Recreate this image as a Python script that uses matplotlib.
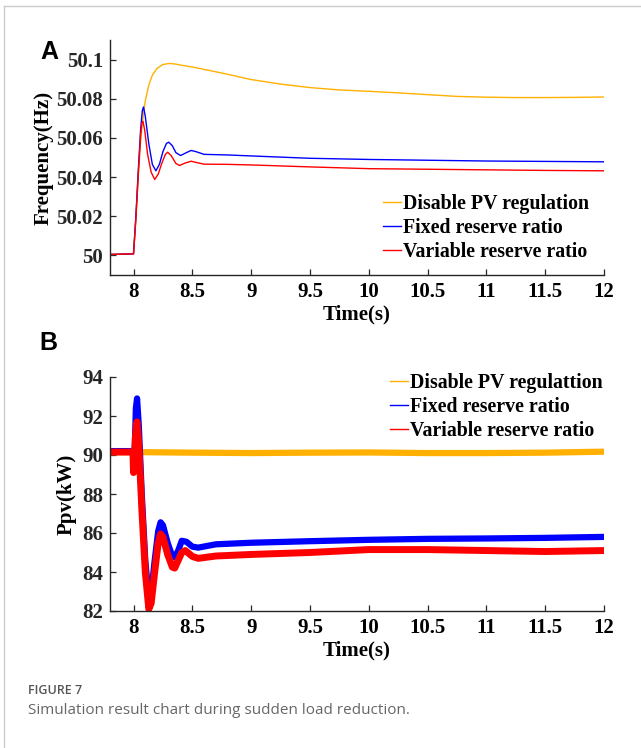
import matplotlib
matplotlib.use("Agg")
import matplotlib.pyplot as plt
from matplotlib.lines import Line2D

# ---------------- data ----------------
# Panel A: frequency (Hz)
t_orange = [7.8, 8.0, 8.02, 8.04, 8.06, 8.08, 8.10, 8.13, 8.16, 8.20, 8.25, 8.30, 8.35, 8.4, 8.5, 8.6,
            8.8, 9.0, 9.25, 9.5, 9.75, 10.0, 10.25, 10.5, 10.75, 11.0, 11.25, 11.5, 11.75, 12.0]
f_orange = [50.0005, 50.0008, 50.018, 50.040, 50.058, 50.070, 50.079, 50.087, 50.092, 50.0955, 50.0975, 50.098,
            50.0978, 50.0972, 50.0962, 50.0950, 50.0925, 50.0898, 50.0875, 50.0857, 50.0845, 50.0838, 50.0830,
            50.0821, 50.0812, 50.0808, 50.0806, 50.0806, 50.0807, 50.0809]

t_blue = [7.8, 8.0, 8.02, 8.04, 8.06, 8.075, 8.085, 8.10, 8.13, 8.16, 8.19, 8.22, 8.25, 8.28, 8.30, 8.33,
          8.36, 8.40, 8.45, 8.49, 8.53, 8.6, 8.8, 9.0, 9.5, 10.0, 10.5, 11.0, 11.5, 12.0]
f_blue = [50.0005, 50.0008, 50.020, 50.043, 50.064, 50.074, 50.0758, 50.071, 50.057, 50.0465, 50.0432, 50.0465,
          50.053, 50.0572, 50.0578, 50.056, 50.0525, 50.051, 50.0525, 50.0536, 50.053, 50.0516, 50.0513,
          50.0508, 50.0496, 50.0490, 50.0486, 50.0482, 50.0480, 50.0478]

t_red = [7.8, 8.0, 8.02, 8.04, 8.06, 8.07, 8.08, 8.095, 8.12, 8.15, 8.18, 8.21, 8.24, 8.27, 8.29, 8.32,
         8.36, 8.39, 8.44, 8.49, 8.53, 8.6, 8.8, 9.0, 9.5, 10.0, 10.5, 11.0, 11.5, 12.0]
f_red = [50.0005, 50.0008, 50.019, 50.041, 50.061, 50.0675, 50.0685, 50.064, 50.0515, 50.0425, 50.0388, 50.0415,
         50.047, 50.0515, 50.0527, 50.051, 50.047, 50.0459, 50.0472, 50.0481, 50.0475, 50.0466, 50.0465,
         50.0462, 50.0452, 50.0443, 50.0440, 50.0437, 50.0434, 50.0432]

# Panel B: PV power (kW)
tp_orange = [7.8, 8.0, 8.5, 9.0, 9.5, 10.0, 10.5, 11.0, 11.5, 12.0]
p_orange = [90.15, 90.15, 90.12, 90.1, 90.12, 90.13, 90.1, 90.1, 90.12, 90.17]

tp_blue = [7.8, 8.0, 8.005, 8.012, 8.02, 8.03, 8.045, 8.07, 8.10, 8.13, 8.15, 8.18, 8.21, 8.23, 8.25, 8.29,
           8.33, 8.35, 8.38, 8.41, 8.45, 8.50, 8.55, 8.7, 9.0, 9.5, 10.0, 10.5, 11.0, 11.5, 12.0]
p_blue = [90.2, 90.2, 89.8, 90.6, 92.4, 92.9, 91.5, 88.0, 84.6, 82.6, 82.9, 84.6, 86.1, 86.55, 86.4, 85.5,
          84.8, 84.75, 85.1, 85.6, 85.55, 85.3, 85.25, 85.42, 85.5, 85.58, 85.65, 85.7, 85.72, 85.75, 85.8]

tp_red = [7.8, 7.995, 8.0, 8.007, 8.015, 8.025, 8.03, 8.045, 8.07, 8.10, 8.13, 8.15, 8.18, 8.21, 8.23, 8.25,
          8.29, 8.33, 8.35, 8.38, 8.41, 8.44, 8.50, 8.55, 8.7, 9.0, 9.5, 10.0, 10.5, 11.0, 11.5, 12.0]
p_red = [90.15, 90.15, 89.1, 89.6, 90.8, 91.6, 91.7, 90.5, 87.3, 84.0, 82.1, 82.4, 84.0, 85.5, 85.95, 85.8,
         84.9, 84.25, 84.2, 84.6, 85.0, 85.1, 84.8, 84.7, 84.82, 84.9, 85.0, 85.15, 85.15, 85.1, 85.05, 85.1]

labels_a = ["Disable PV regulation", "Fixed reserve ratio", "Variable reserve ratio"]
labels_b = ["Disable PV regulattion", "Fixed reserve ratio", "Variable reserve ratio"]
xticks = [8, 8.5, 9, 9.5, 10, 10.5, 11, 11.5, 12]
xtick_labels = ["8", "8.5", "9", "9.5", "10", "10.5", "11", "11.5", "12"]
yticks_a = [50, 50.02, 50.04, 50.06, 50.08, 50.1]
ytick_labels_a = ["50", "50.02", "50.04", "50.06", "50.08", "50.1"]
yticks_b = [82, 84, 86, 88, 90, 92, 94]

ORANGE = "#FFB000"
BLUE = "#0000FF"
RED = "#FF0000"

# ---------------- figure ----------------
serif = ["Liberation Serif", "DejaVu Serif"]
plt.rcParams["font.family"] = serif
plt.rcParams["font.weight"] = "bold"

W, H = 641, 748
fig = plt.figure(figsize=(W / 100, H / 100), dpi=100)
fs_tick = 15
fs_leg = 14.3


def style_axes(ax):
    ax.spines["top"].set_visible(False)
    ax.spines["right"].set_visible(False)
    for s in ("left", "bottom"):
        ax.spines[s].set_linewidth(1.0)
        ax.spines[s].set_color("#262626")
    ax.tick_params(direction="in", length=4, width=0.9, colors="#262626")
    ax.tick_params(axis="x", pad=5)
    ax.tick_params(axis="y", pad=5)
    ax.set_xlim(7.8, 12)
    ax.set_xticks(xticks)
    ax.set_xticklabels(xtick_labels, fontfamily=serif, fontweight="bold", fontsize=fs_tick, color="black")
    ax.set_xlabel("Time(s)", fontfamily=serif, fontweight="bold", fontsize=15, labelpad=2)


# Panel A
axA = fig.add_axes([110 / W, 1 - 275 / H, (604 - 110) / W, (275 - 40) / H])
axA.plot(t_orange, f_orange, color=ORANGE, lw=1.0, label=labels_a[0])
axA.plot(t_blue, f_blue, color=BLUE, lw=1.0, label=labels_a[1])
axA.plot(t_red, f_red, color=RED, lw=1.0, label=labels_a[2])
axA.set_ylim(49.99, 50.11)
axA.set_yticks(yticks_a)
axA.set_yticklabels(ytick_labels_a, fontfamily=serif, fontweight="bold", fontsize=fs_tick, color="black")
style_axes(axA)
axA.set_ylabel("Frequency(Hz)", fontfamily=serif, fontweight="bold", fontsize=15, labelpad=2)
axA.legend(loc="upper left", bbox_to_anchor=(383 / W, 1 - 194 / H), bbox_transform=fig.transFigure,
           frameon=False, handlelength=0.9, handletextpad=0.1, labelspacing=0.2,
           borderpad=0, borderaxespad=0,
           prop={"family": serif, "weight": "bold", "size": fs_leg})

# Panel B
axB = fig.add_axes([110 / W, 1 - 611 / H, (604 - 110) / W, (611 - 377) / H])
axB.plot(tp_orange, p_orange, color=ORANGE, lw=4.5, solid_capstyle="butt", label=labels_b[0])
axB.plot(tp_blue, p_blue, color=BLUE, lw=4.5, solid_capstyle="butt", label=labels_b[1])
axB.plot(tp_red, p_red, color=RED, lw=5.0, solid_capstyle="butt", label=labels_b[2])
axB.set_ylim(82, 94)
axB.set_yticks(yticks_b)
axB.set_yticklabels([str(v) for v in yticks_b], fontfamily=serif, fontweight="bold", fontsize=fs_tick,
                    color="black")
style_axes(axB)
axB.set_ylabel("Ppv(kW)", fontfamily=serif, fontweight="bold", fontsize=15, labelpad=4)
handles_b = [Line2D([], [], color=c, lw=1.0) for c in (ORANGE, BLUE, RED)]
axB.legend(handles_b, labels_b, loc="upper left", bbox_to_anchor=(390 / W, 1 - 373 / H),
           bbox_transform=fig.transFigure, frameon=False, handlelength=0.9, handletextpad=0.1,
           labelspacing=0.2, borderpad=0, borderaxespad=0,
           prop={"family": serif, "weight": "bold", "size": fs_leg})

# Panel letters
fig.text(40 / W, 1 - 52 / H, "A", fontfamily=["Liberation Sans", "DejaVu Sans"], fontweight="bold",
         fontsize=18, va="center", ha="left")
fig.text(39 / W, 1 - 343 / H, "B", fontfamily=["Liberation Sans", "DejaVu Sans"], fontweight="bold",
         fontsize=18, va="center", ha="left")

# Caption
fig.text(28 / W, 1 - 690 / H, "FIGURE 7", fontfamily=["Open Sans", "DejaVu Sans"], fontsize=9,
         fontweight="semibold", color="#555555", va="center", ha="left")
fig.text(28 / W, 1 - 711 / H, "Simulation result chart during sudden load reduction.",
         fontfamily=["Open Sans", "DejaVu Sans"], fontsize=11, fontweight="normal", color="#666666",
         va="center", ha="left")

# Frame lines
fig.add_artist(Line2D([4 / W, 1], [1 - 6 / H, 1 - 6 / H], transform=fig.transFigure, color="#cccccc", lw=1))
fig.add_artist(Line2D([4 / W, 4 / W], [0, 1 - 6 / H], transform=fig.transFigure, color="#cccccc", lw=1))

fig.savefig("out.png", dpi=100)
